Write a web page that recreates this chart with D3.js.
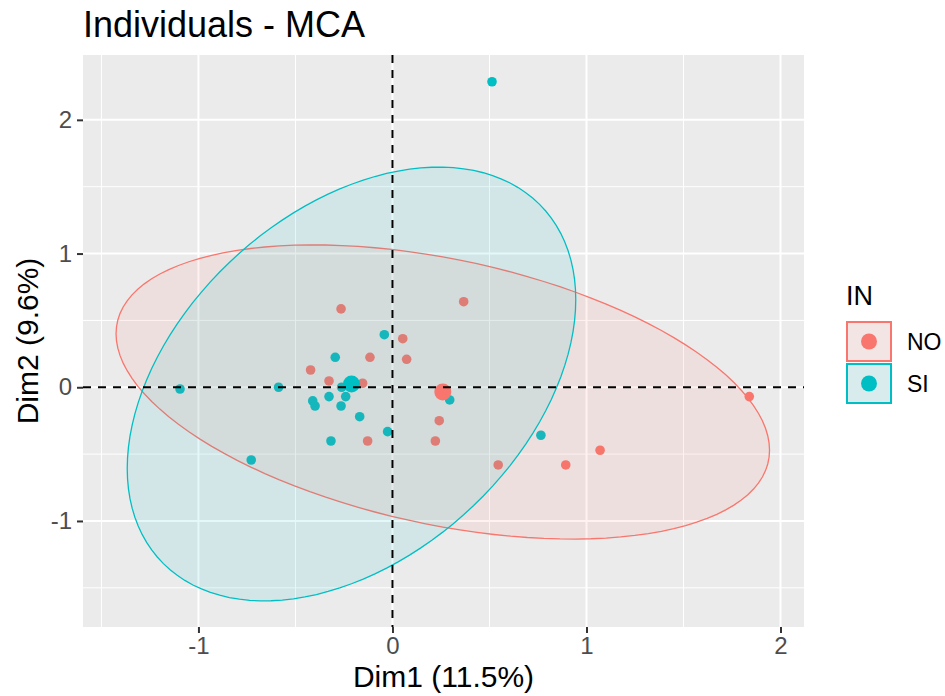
<!DOCTYPE html>
<html>
<head>
<meta charset="utf-8">
<script src="https://d3js.org/d3.v7.min.js"></script>
<style>
  body { margin: 0; background: #fff; }
  svg text { font-family: "Liberation Sans", Arial, sans-serif; }
</style>
</head>
<body>
<svg class="chart" width="945" height="696"></svg>
<script>
// individuals (Dim1, Dim2)
var groups = ['NO', 'SI'];
var groupColors = ['#F8766D', '#00BFC4'];

var noDim1 = [-0.265, 0.367, 0.053, -0.116, 0.073, -0.422, -0.327, -0.154, 0.241, -0.128, 0.221, 1.839, 1.070, 0.893, 0.545];
var noDim2 = [0.586, 0.640, 0.363, 0.224, 0.209, 0.129, 0.047, 0.030, -0.250, -0.402, -0.402, -0.070, -0.471, -0.581, -0.581];

var siDim1 = [0.513, -0.042, -0.295, -0.262, -0.411, -0.399, -0.327, -0.241, -0.265, -0.169, -0.025, -0.317, 0.295, -1.095, -0.587, -0.728, 0.765];
var siDim2 = [2.285, 0.393, 0.224, 0.000, -0.102, -0.140, -0.070, -0.070, -0.140, -0.220, -0.332, -0.402, -0.095, -0.013, 0.000, -0.544, -0.359];

// ellipse shape per group: [var1, cov12, var2] (already scaled to the 95% level)
var noEllipse = [2.836, -0.733, 1.210];
var siEllipse = [1.336, 0.730, 2.631];

var xTicks = [-1, 0, 1, 2];
var yTicks = [-1, 0, 1, 2];
var xMinor = [-1.5, -0.5, 0.5, 1.5];
var yMinor = [-1.5, -0.5, 0.5, 1.5];

(function() {
  var svg = d3.select('.chart');
  var panel = { left: 83, right: 804, top: 55, bottom: 627 };
  var font = '"Liberation Sans", Arial, sans-serif';

  var x = d3.scaleLinear().domain([-1.595, 2.121]).range([panel.left, panel.right]);
  var y = d3.scaleLinear().domain([-1.793, 2.485]).range([panel.bottom, panel.top]);

  var data = [
    { name: groups[0], color: groupColors[0], xs: noDim1, ys: noDim2, shape: noEllipse },
    { name: groups[1], color: groupColors[1], xs: siDim1, ys: siDim2, shape: siEllipse }
  ];
  data.forEach(function(g) {
    g.points = g.xs.map(function(v, i) { return [v, g.ys[i]]; });
    g.mean = [d3.mean(g.xs), d3.mean(g.ys)];
  });

  svg.append('rect').attr('width', 945).attr('height', 696).attr('fill', '#fff');

  // panel + grid
  svg.append('rect')
    .attr('x', panel.left).attr('y', panel.top)
    .attr('width', panel.right - panel.left).attr('height', panel.bottom - panel.top)
    .attr('fill', '#EBEBEB');

  var grid = svg.append('g').attr('stroke', '#fff');
  grid.selectAll('.vminor').data(xMinor).enter().append('line')
    .attr('x1', x).attr('x2', x).attr('y1', panel.top).attr('y2', panel.bottom)
    .attr('stroke-width', 1);
  grid.selectAll('.hminor').data(yMinor).enter().append('line')
    .attr('y1', y).attr('y2', y).attr('x1', panel.left).attr('x2', panel.right)
    .attr('stroke-width', 1);
  grid.selectAll('.vmajor').data(xTicks).enter().append('line')
    .attr('x1', x).attr('x2', x).attr('y1', panel.top).attr('y2', panel.bottom)
    .attr('stroke-width', 2);
  grid.selectAll('.hmajor').data(yTicks).enter().append('line')
    .attr('y1', y).attr('y2', y).attr('x1', panel.left).attr('x2', panel.right)
    .attr('stroke-width', 2);

  // individual points
  data.forEach(function(g) {
    svg.append('g').selectAll('circle').data(g.points).enter().append('circle')
      .attr('cx', function(d) { return x(d[0]); })
      .attr('cy', function(d) { return y(d[1]); })
      .attr('r', 4.8)
      .attr('fill', g.color);
  });

  // ellipses: mean + chol(S) * (cos t, sin t)
  var line = d3.line()
    .x(function(d) { return x(d[0]); })
    .y(function(d) { return y(d[1]); })
    .curve(d3.curveLinearClosed);

  data.forEach(function(g) {
    var a = g.shape[0], b = g.shape[1], c = g.shape[2];
    var l11 = Math.sqrt(a), l21 = b / l11, l22 = Math.sqrt(c - l21 * l21);
    var pts = d3.range(0, 2 * Math.PI, Math.PI / 60).map(function(t) {
      var u = Math.cos(t), v = Math.sin(t);
      return [g.mean[0] + l11 * u, g.mean[1] + l21 * u + l22 * v];
    });
    svg.append('path')
      .attr('d', line(pts))
      .attr('fill', g.color)
      .attr('fill-opacity', 0.1)
      .attr('stroke', g.color)
      .attr('stroke-width', 1.3);
  });

  // group mean points
  data.forEach(function(g) {
    svg.append('circle')
      .attr('cx', x(g.mean[0])).attr('cy', y(g.mean[1]))
      .attr('r', 8.5).attr('fill', g.color);
  });

  // dashed axes through the origin
  svg.append('line')
    .attr('x1', panel.left).attr('x2', panel.right).attr('y1', y(0)).attr('y2', y(0))
    .attr('stroke', '#000').attr('stroke-width', 2).attr('stroke-dasharray', '8,7');
  svg.append('line')
    .attr('y1', panel.top).attr('y2', panel.bottom).attr('x1', x(0)).attr('x2', x(0))
    .attr('stroke', '#000').attr('stroke-width', 2).attr('stroke-dasharray', '8,7');

  // axes (plain hyphen for negatives, as in R)
  var fmt = function(d) { return String(d); };
  var xAxis = svg.append('g')
    .attr('transform', 'translate(0,' + panel.bottom + ')')
    .call(d3.axisBottom(x).tickValues(xTicks).tickSize(6).tickPadding(4).tickFormat(fmt));
  var yAxis = svg.append('g')
    .attr('transform', 'translate(' + panel.left + ',0)')
    .call(d3.axisLeft(y).tickValues(yTicks).tickSize(6).tickPadding(5).tickFormat(fmt));
  [xAxis, yAxis].forEach(function(ax) {
    ax.select('.domain').remove();
    ax.selectAll('.tick line').attr('stroke', '#333').attr('stroke-width', 2);
    ax.selectAll('.tick text')
      .attr('fill', '#4D4D4D')
      .style('font-family', font)
      .style('font-size', '24px');
  });

  // titles
  svg.append('text')
    .attr('x', panel.left).attr('y', 37)
    .attr('fill', '#000')
    .style('font-size', '36px')
    .text('Individuals - MCA');

  svg.append('text')
    .attr('x', (panel.left + panel.right) / 2).attr('y', 687)
    .attr('text-anchor', 'middle')
    .attr('fill', '#000')
    .style('font-size', '30px')
    .text('Dim1 (11.5%)');

  svg.append('text')
    .attr('transform', 'translate(38,' + (panel.top + panel.bottom) / 2 + ') rotate(-90)')
    .attr('text-anchor', 'middle')
    .attr('fill', '#000')
    .style('font-size', '30px')
    .text('Dim2 (9.6%)');

  // legend
  var legend = svg.append('g').attr('transform', 'translate(846,0)');
  legend.append('text')
    .attr('x', 0).attr('y', 305)
    .style('font-size', '27px')
    .text('IN');

  var keys = legend.selectAll('.key').data(data).enter().append('g')
    .attr('transform', function(d, i) { return 'translate(0,' + (321 + i * 42) + ')'; });
  keys.append('rect')
    .attr('x', 1).attr('y', 1).attr('width', 44).attr('height', 39)
    .attr('fill', '#F2F2F2');
  keys.append('rect')
    .attr('x', 1).attr('y', 1).attr('width', 44).attr('height', 39)
    .attr('fill', function(d) { return d.color; })
    .attr('fill-opacity', 0.1)
    .attr('stroke', function(d) { return d.color; })
    .attr('stroke-width', 2);
  keys.append('circle')
    .attr('cx', 23).attr('cy', 20.5).attr('r', 8)
    .attr('fill', function(d) { return d.color; });
  keys.append('text')
    .attr('x', 61).attr('y', 20.5).attr('dy', '0.35em')
    .style('font-size', '23px')
    .text(function(d) { return d.name; });
})();
</script>
</body>
</html>
